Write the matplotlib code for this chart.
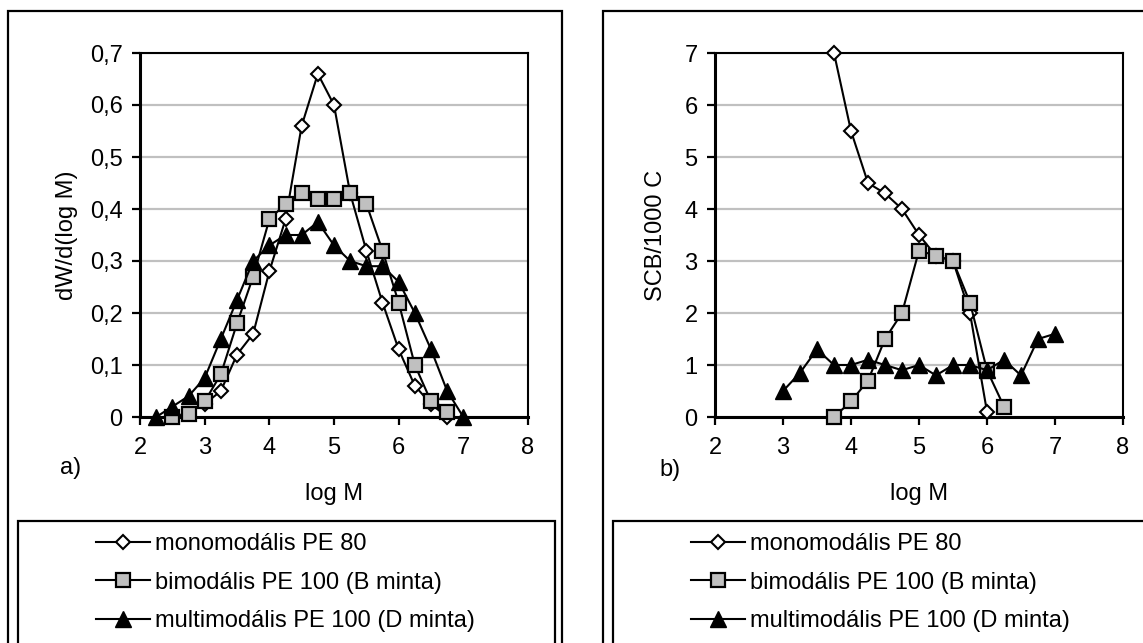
import matplotlib
matplotlib.use("Agg")
import matplotlib.pyplot as plt
from matplotlib.lines import Line2D
from matplotlib.patches import Rectangle
from matplotlib.ticker import FuncFormatter

plt.rcParams['font.family'] = ['Liberation Sans', 'DejaVu Sans']
FS = 17

# a) molar mass distribution
mono_x = [3.0, 3.25, 3.5, 3.75, 4.0, 4.25, 4.5, 4.75, 5.0, 5.25, 5.5, 5.75, 6.0, 6.25, 6.5, 6.75]
mono_y = [0.025, 0.05, 0.12, 0.16, 0.28, 0.38, 0.56, 0.66, 0.60, 0.43, 0.32, 0.22, 0.13, 0.06, 0.025, 0.0]
bi_x = [2.5, 2.75, 3.0, 3.25, 3.5, 3.75, 4.0, 4.25, 4.5, 4.75, 5.0, 5.25, 5.5, 5.75, 6.0, 6.25, 6.5, 6.75]
bi_y = [0.0, 0.006, 0.03, 0.082, 0.18, 0.27, 0.38, 0.41, 0.43, 0.42, 0.42, 0.43, 0.41, 0.32, 0.22, 0.10, 0.03, 0.01]
multi_x = [2.25, 2.5, 2.75, 3.0, 3.25, 3.5, 3.75, 4.0, 4.25, 4.5, 4.75, 5.0, 5.25, 5.5, 5.75, 6.0, 6.25, 6.5, 6.75, 7.0]
multi_y = [0.0, 0.02, 0.04, 0.075, 0.15, 0.225, 0.30, 0.33, 0.35, 0.35, 0.375, 0.33, 0.30, 0.29, 0.29, 0.26, 0.20, 0.13, 0.05, 0.0]

# b) short chain branching
mono2_x = [3.75, 4.0, 4.25, 4.5, 4.75, 5.0, 5.25, 5.5, 5.75, 6.0]
mono2_y = [7.0, 5.5, 4.5, 4.3, 4.0, 3.5, 3.1, 3.0, 2.0, 0.1]
bi2_x = [3.75, 4.0, 4.25, 4.5, 4.75, 5.0, 5.25, 5.5, 5.75, 6.0, 6.25]
bi2_y = [0.0, 0.3, 0.7, 1.5, 2.0, 3.2, 3.1, 3.0, 2.2, 0.9, 0.2]
multi2_x = [3.0, 3.25, 3.5, 3.75, 4.0, 4.25, 4.5, 4.75, 5.0, 5.25, 5.5, 5.75, 6.0, 6.25, 6.5, 6.75, 7.0]
multi2_y = [0.5, 0.85, 1.3, 1.0, 1.0, 1.1, 1.0, 0.9, 1.0, 0.8, 1.0, 1.0, 0.9, 1.1, 0.8, 1.5, 1.6]

labels = ["monomodális PE 80", "bimodális PE 100 (B minta)", "multimodális PE 100 (D minta)"]

styles = [
    dict(marker='D', ms=7.3, mfc='white', mec='black', mew=1.5),
    dict(marker='s', ms=9.8, mfc='#c0c0c0', mec='black', mew=1.6),
    dict(marker='^', ms=11, mfc='black', mec='black', mew=1),
]

W, H = 1143, 643
fig = plt.figure(figsize=(W / 100, H / 100), dpi=100)


def fx(px):
    return px / W


def fy(py):
    return 1 - py / H


def comma(v, pos):
    if abs(v) < 1e-9:
        return "0"
    return f"{v:g}".replace('.', ',')


def setup(ax, ymax, ystep, ylabel, ylab_x):
    ax.set_xlim(2, 8)
    ax.set_ylim(0, ymax)
    ax.set_xticks(range(2, 9))
    ax.set_yticks([i * ystep for i in range(int(round(ymax / ystep)) + 1)])
    ax.yaxis.set_major_formatter(FuncFormatter(comma))
    ax.yaxis.grid(True, color='#c0c0c0', lw=1.6)
    ax.set_axisbelow(True)
    for s in ['left', 'bottom']:
        ax.spines[s].set_linewidth(2.2)
    for s in ['top', 'right']:
        ax.spines[s].set_linewidth(1.5)
    ax.tick_params(direction='out', length=5.5, width=1.6, labelsize=FS)
    ax.tick_params(axis='x', pad=9)
    ax.tick_params(axis='y', pad=7)
    ax.set_xlabel("log M", fontsize=FS)
    ax.set_ylabel(ylabel, fontsize=FS)
    ax.xaxis.set_label_coords(0.5, -0.18)
    ax.yaxis.set_label_coords(ylab_x, 0.5)


ax1 = fig.add_axes([fx(140), fy(417), fx(528 - 140), (417 - 53) / H])
ax2 = fig.add_axes([fx(715), fy(417), fx(1123 - 715), (417 - 53) / H])

for ax, series in [(ax1, [(mono_x, mono_y), (bi_x, bi_y), (multi_x, multi_y)]),
                   (ax2, [(mono2_x, mono2_y), (bi2_x, bi2_y), (multi2_x, multi2_y)])]:
    for (x, y), st, lab in zip(series, styles, labels):
        ax.plot(x, y, color='black', lw=1.5, label=lab, clip_on=False, zorder=3, **st)

setup(ax1, 0.7, 0.1, "dW/d(log M)", -0.16)
setup(ax2, 7, 1, "SCB/1000 C", -0.118)

fig.text(fx(71), fy(468), "a)", fontsize=FS, ha='center', va='center')
fig.text(fx(670), fy(470), "b)", fontsize=FS, ha='center', va='center')

# outer frames and legend boxes
for x0, x1 in [(8, 562), (603, 1160)]:
    fig.patches.append(Rectangle((fx(x0), fy(660)), fx(x1 - x0), (660 - 11) / H,
                                 transform=fig.transFigure, fill=False, lw=1.6, ec='black'))
for x0, x1 in [(18, 555), (613, 1160)]:
    fig.patches.append(Rectangle((fx(x0), fy(660)), fx(x1 - x0), (660 - 521) / H,
                                 transform=fig.transFigure, fill=False, lw=1.6, ec='black'))

handles = [Line2D([], [], color='black', lw=1.5, **st) for st in styles]
for hx in [96, 691]:
    fig.legend(handles, labels, loc='upper left', bbox_to_anchor=(fx(hx), fy(533)),
               frameon=False, fontsize=FS, borderpad=0, borderaxespad=0,
               handlelength=2.3, handletextpad=0.2, labelspacing=0.7)

fig.savefig("out.png", dpi=100)
